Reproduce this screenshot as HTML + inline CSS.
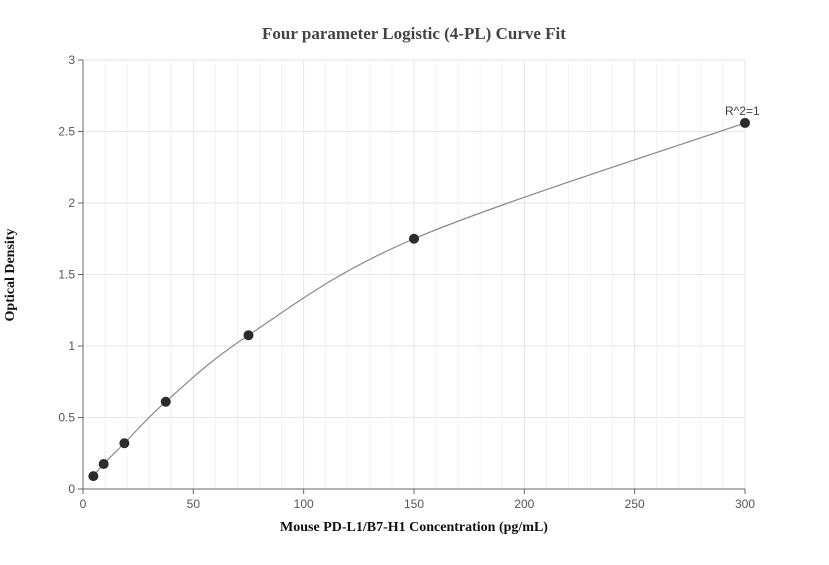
<!DOCTYPE html>
<html><head><meta charset="utf-8"><style>
body{margin:0;background:#fff;width:829px;height:560px;overflow:hidden}
svg{font-family:"Liberation Sans",sans-serif}
</style></head><body>
<svg id="chart" width="829" height="560">
<text x="414" y="39" text-anchor="middle" font-family="Liberation Serif" font-weight="bold" font-size="17" fill="#444">Four parameter Logistic (4-PL) Curve Fit</text>
<text x="414" y="531" text-anchor="middle" font-family="Liberation Serif" font-weight="bold" font-size="14" fill="#111">Mouse PD-L1/B7-H1 Concentration (pg/mL)</text>
<text transform="translate(14,275) rotate(-90)" text-anchor="middle" font-family="Liberation Serif" font-weight="bold" font-size="14" fill="#111">Optical Density</text>
<g id="grid"></g><g id="axes"></g><g id="marks"></g>
</svg>
<script>
const xTicks=[0,50,100,150,200,250,300];
const yTicks=[0,0.5,1,1.5,2,2.5,3];
const concentrations=[4.69,9.375,18.75,37.5,75,150,300];
const odValues=[0.09,0.175,0.32,0.61,1.075,1.75,2.56];
const rLabel="R^2=1";
const X0=83,X1=745,Y0=489,Y1=60;
const xs=v=>X0+(v/300)*(X1-X0), ys=v=>Y0-(v/3)*(Y0-Y1);
const NS="http://www.w3.org/2000/svg";
function mk(p,t,a){const e=document.createElementNS(NS,t);for(const k in a)e.setAttribute(k,a[k]);p.appendChild(e);return e;}
const grid=document.getElementById('grid'),axes=document.getElementById('axes'),marks=document.getElementById('marks');
for(let v=10;v<=300;v+=10){const l=mk(grid,'line',{x1:xs(v),x2:xs(v),y1:Y1,y2:Y0,stroke:v%50?'#f0f2f7':'#e2e6ef','stroke-width':1});

}
yTicks.forEach(v=>{if(v>0){const l=mk(grid,'line',{x1:X0,x2:X1,y1:ys(v),y2:ys(v),stroke:'#e2e6ef','stroke-width':1});

}
const tk=mk(axes,'line',{x1:X0-5,x2:X0,y1:ys(v),y2:ys(v),stroke:'#666'});


const t=mk(axes,'text',{x:X0-8,y:ys(v)+4,'text-anchor':'end','font-size':12,fill:'#555'});t.textContent=v;

});
xTicks.forEach(v=>{const tk=mk(axes,'line',{x1:xs(v),x2:xs(v),y1:Y0,y2:Y0+5,stroke:'#666'});


const t=mk(axes,'text',{x:xs(v),y:Y0+19,'text-anchor':'middle','font-size':12,fill:'#555'});t.textContent=v;

});
const ya=mk(axes,'line',{x1:X0,x2:X0,y1:Y1,y2:Y0,stroke:'#666'});


const xa=mk(axes,'line',{x1:X0,x2:X1,y1:Y0,y2:Y0,stroke:'#666'});


// smooth curve (Catmull-Rom through points)
const P=concentrations.map((c,i)=>[xs(c),ys(odValues[i])]);
let d=`M${P[0][0]},${P[0][1]}`;
for(let i=0;i<P.length-1;i++){const p0=P[i-1]||P[i],p1=P[i],p2=P[i+1],p3=P[i+2]||P[i+1];
d+=` C${p1[0]+(p2[0]-p0[0])/6},${p1[1]+(p2[1]-p0[1])/6} ${p2[0]-(p3[0]-p1[0])/6},${p2[1]-(p3[1]-p1[1])/6} ${p2[0]},${p2[1]}`;}
const cv=mk(marks,'path',{d:d,fill:'none',stroke:'#888','stroke-width':1.2});


P.forEach(p=>{const c=mk(marks,'circle',{cx:p[0],cy:p[1],r:5,fill:'#2b2b2b'});

});
const lp=P[P.length-1];
const rl=mk(marks,'text',{x:lp[0]-20,y:lp[1]-8,'font-size':12,fill:'#444'});rl.textContent=rLabel;


</script>
</body></html>
